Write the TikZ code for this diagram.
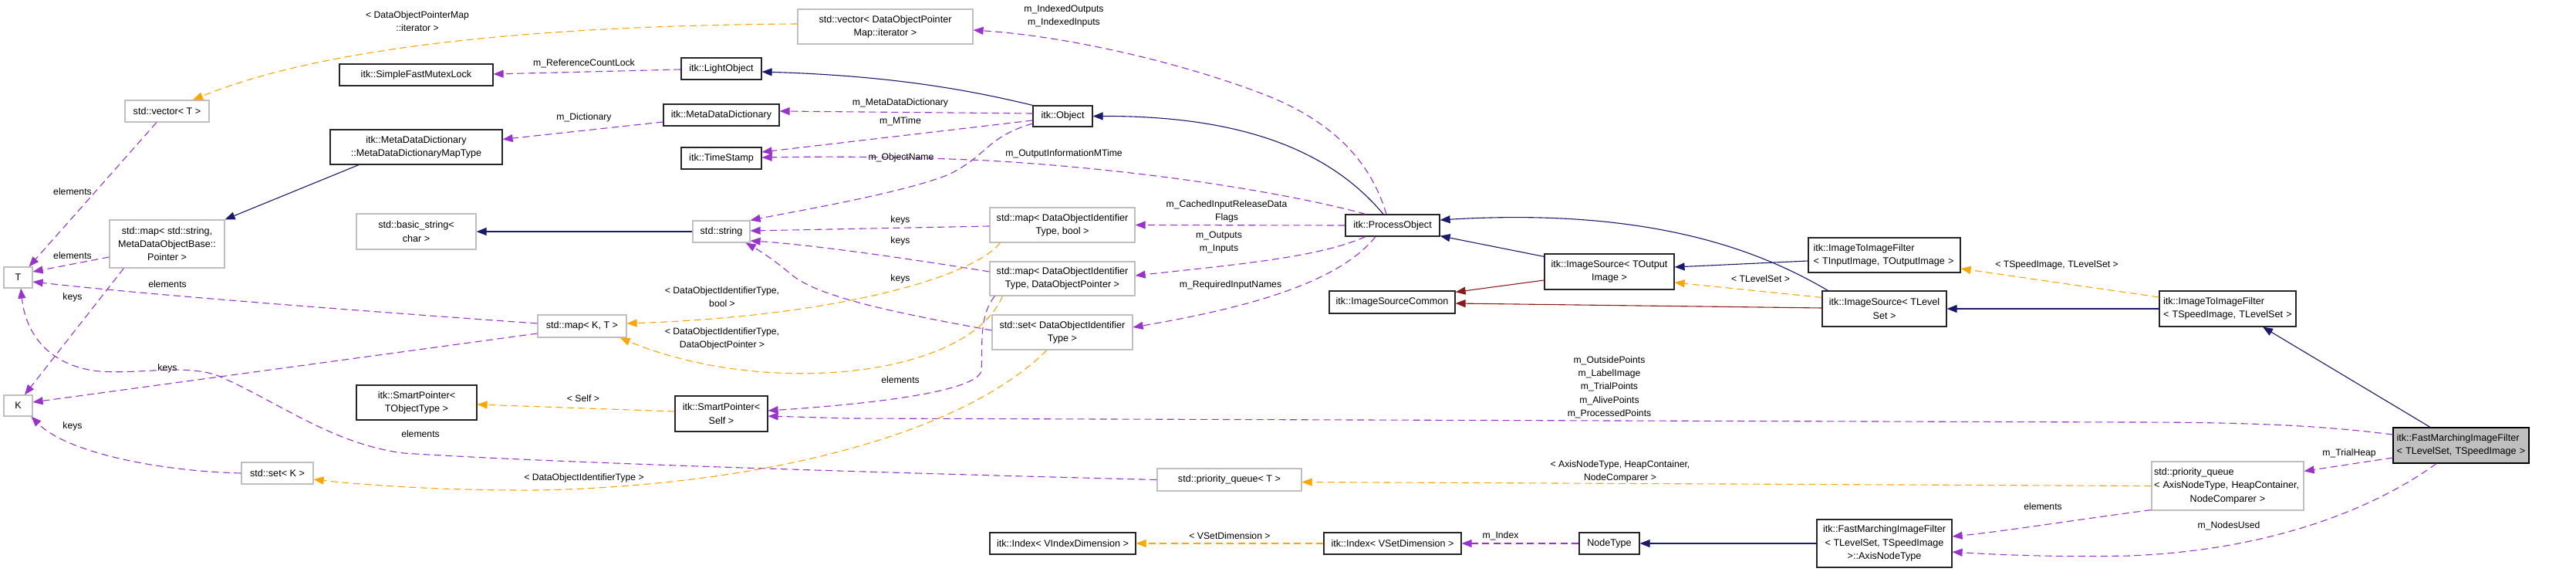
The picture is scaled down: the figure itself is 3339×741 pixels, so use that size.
\documentclass[tikz,border=0pt]{standalone}
\usepackage{fontspec}
\setmainfont{Liberation Sans}
\usetikzlibrary{arrows.meta,calc}
\definecolor{boxgray}{HTML}{BFBFBF}
\definecolor{boxblack}{HTML}{262626}
\definecolor{fmfill}{HTML}{BFBFBF}
\definecolor{epurple}{HTML}{9A32CD}
\definecolor{enavy}{HTML}{191970}
\definecolor{eorange}{HTML}{FFA500}
\definecolor{emaroon}{HTML}{8B1A1A}
\begin{document}
\begin{tikzpicture}[x=1pt,y=-1pt,
  every node/.style={font=\fontsize{12.6}{17.3}\selectfont, inner sep=0pt},
  gbox/.style={draw=boxgray, line width=1.2pt, fill=white, align=center},
  bbox/.style={draw=boxblack, line width=1.2pt, fill=white, align=center},
  lbl/.style={align=center, font=\fontsize{12.2}{17.3}\selectfont},
  tipend/.style={-{Triangle[length=13pt,width=10pt]}},
  pe/.style={tipend, draw=epurple, line width=1.1pt, dash pattern=on 9pt off 5.5pt},
  oe/.style={tipend, draw=eorange, line width=1.1pt, dash pattern=on 9pt off 5.5pt},
  ne/.style={tipend, draw=enavy, line width=1.1pt},
  me/.style={tipend, draw=emaroon, line width=1.1pt}]
\path[use as bounding box, fill=white] (0,0) rectangle (3339,741);

% ---------- nodes ----------
\node[gbox, minimum width=37pt, minimum height=27pt] (T) at (23.5,359.5) {T};
\node[gbox, minimum width=37pt, minimum height=27pt] (K) at (23.5,525.5) {K};
\node[gbox, minimum width=109pt, minimum height=28pt] (vecT) at (216.5,144) {std::vector< T >};
\node[gbox, minimum width=149pt, minimum height=62pt] (mapStr) at (216.5,316) {std::map< std::string,\\MetaDataObjectBase::\\Pointer >};
\node[bbox, minimum width=199pt, minimum height=28pt] (mutex) at (539.5,97) {itk::SimpleFastMutexLock};
\node[bbox, minimum width=223pt, minimum height=45pt] (mddMap) at (539.5,190.5) {itk::MetaDataDictionary\\::MetaDataDictionaryMapType};
\node[gbox, minimum width=155pt, minimum height=46pt] (basic) at (539.5,300) {std::basic\_string<\\char >};
\node[bbox, minimum width=156pt, minimum height=45pt] (spT) at (540,521.5) {itk::SmartPointer<\\TObjectType >};
\node[gbox, minimum width=93pt, minimum height=28pt] (setK) at (359.5,613) {std::set< K >};
\node[gbox, minimum width=115pt, minimum height=29pt] (mapKT) at (754.5,422.5) {std::map< K, T >};
\node[bbox, minimum width=104pt, minimum height=28pt] (light) at (935,89) {itk::LightObject};
\node[bbox, minimum width=150pt, minimum height=28pt] (mdd) at (935,149) {itk::MetaDataDictionary};
\node[bbox, minimum width=104pt, minimum height=28pt] (ts) at (935,205) {itk::TimeStamp};
\node[gbox, minimum width=74pt, minimum height=28pt] (str) at (935,300) {std::string};
\node[bbox, minimum width=120pt, minimum height=46pt] (spSelf) at (935,536) {itk::SmartPointer<\\Self >};
\node[gbox, minimum width=227pt, minimum height=45pt] (vecIt) at (1147.5,34.5) {std::vector< DataObjectPointer\\Map::iterator >};
\node[bbox, minimum width=77pt, minimum height=27pt] (obj) at (1377.5,150.5) {itk::Object};
\node[gbox, minimum width=188pt, minimum height=45pt] (mapBool) at (1377,291.5) {std::map< DataObjectIdentifier\\Type, bool >};
\node[gbox, minimum width=188pt, minimum height=44pt] (mapDOP) at (1377,361) {std::map< DataObjectIdentifier\\Type, DataObjectPointer >};
\node[gbox, minimum width=182pt, minimum height=45pt] (setDOIT) at (1377,430.5) {std::set< DataObjectIdentifier\\Type >};
\node[bbox, minimum width=189pt, minimum height=28pt] (idxV) at (1377.5,704) {itk::Index< VIndexDimension >};
\node[gbox, minimum width=187pt, minimum height=29pt] (pqT) at (1593.5,621.5) {std::priority\_queue< T >};
\node[bbox, minimum width=122pt, minimum height=28pt] (proc) at (1805,292) {itk::ProcessObject};
\node[bbox, minimum width=163pt, minimum height=29pt] (isc) at (1804.5,391.5) {itk::ImageSourceCommon};
\node[bbox, minimum width=178pt, minimum height=28pt] (idxS) at (1805,704) {itk::Index< VSetDimension >};
\node[bbox, minimum width=168pt, minimum height=46pt] (isOut) at (2086,352) {itk::ImageSource< TOutput\\Image >};
\node[bbox, minimum width=78pt, minimum height=28pt] (nodeT) at (2086,704) {NodeType};
\node[bbox, minimum width=197pt, minimum height=45pt, text width=184pt, align=left] (itiIn) at (2442.5,330.5) {itk::ImageToImageFilter\\< TInputImage, TOutputImage >};
\node[bbox, minimum width=161pt, minimum height=46pt] (isLS) at (2442.5,400) {itk::ImageSource< TLevel\\Set >};
\node[bbox, minimum width=175pt, minimum height=62pt] (axis) at (2442.5,704) {itk::FastMarchingImageFilter\\< TLevelSet, TSpeedImage\\>::AxisNodeType};
\node[bbox, minimum width=177pt, minimum height=46pt, text width=167pt, align=left] (itiSp) at (2887.5,400) {itk::ImageToImageFilter\\< TSpeedImage, TLevelSet >};
\node[gbox, minimum width=197pt, minimum height=63pt, text width=191pt, align=left] (pqA) at (2887.5,629.5) {std::priority\_queue\\< AxisNodeType, HeapContainer,\\\makebox[191pt][c]{NodeComparer >}};
\node[draw=black, line width=1.2pt, fill=fmfill, minimum width=176pt, minimum height=46pt, text width=167pt, align=left] (fm) at (3190,577) {itk::FastMarchingImageFilter\\< TLevelSet, TSpeedImage >};

% ---------- purple (member) edges ----------
\draw[pe] ($(light.west)+(0,1)$) -- ($(mutex.east)+(0,-1)$);
\draw[pe] ($(mdd.west)+(0,9)$) -- ($(mddMap.east)+(0,-10)$);
\draw[pe] ($(obj.west)+(0,-3.5)$) -- ($(mdd.east)+(0,-5)$);
\draw[pe] ($(obj.west)+(0,5.5)$) -- ($(ts.east)+(0,-8)$);
\draw[pe] ($(obj.west)+(0,9.5)$) .. controls (1278,178) and (1282,200) .. (1230,226) .. controls (1170,250) and (1040,272) .. (str.north east);
\draw[pe] ($(proc.north)+(-35,0)$) .. controls (1700,258) and (1520,222) .. (1280,208) .. controls (1150,202) and (1050,203) .. ($(ts.east)+(0,-1)$);
\draw[pe] ($(proc.north)+(-8,0)$) .. controls (1780,220) and (1740,165) .. (1650,127) .. controls (1560,90) and (1400,48) .. ($(vecIt.east)+(0,4.5)$);
\draw[pe] (proc.west) -- (mapBool.east);
\draw[pe] ($(proc.south)+(-35,0)$) .. controls (1710,333) and (1610,342) .. ($(mapDOP.east)+(0,-4)$);
\draw[pe] ($(proc.south)+(-22,0)$) .. controls (1740,360) and (1640,395) .. ($(setDOIT.east)+(0,-6.5)$);
\draw[pe] ($(mapBool.west)+(0,1.5)$) -- ($(str.east)+(0,-1)$);
\draw[pe] ($(mapDOP.west)+(0,-9)$) .. controls (1160,332) and (1040,316) .. ($(str.east)+(0,12)$);
\draw[pe] ($(setDOIT.west)+(0,-2.5)$) .. controls (1160,405) and (1060,385) .. (1025,355) .. controls (1005,338) and (985,325) .. ($(str.south east)+(-6,0)$);
\draw[pe] ($(mapDOP.south west)+(7,0)$) .. controls (1268,410) and (1274,450) .. (1272,480) .. controls (1268,505) and (1150,522) .. ($(spSelf.east)+(0,-4)$);
\draw[pe] ($(fm.west)+(0,-14)$) .. controls (3000,550) and (2900,547) .. (2760,547) -- (1100,542) -- ($(spSelf.east)+(0,3)$);
\draw[pe] ($(vecT.south)+(-13.5,0)$) -- ($(T.north east)+(-5,0)$);
\draw[pe] ($(mapStr.west)+(0,17)$) -- ($(T.east)+(0,-7.5)$);
\draw[pe] ($(mapKT.west)+(0,-3.5)$) .. controls (500,405) and (200,383) .. ($(T.east)+(0,5.5)$);
\draw[pe] ($(mapStr.south west)+(19,0)$) -- ($(K.north)+(8.5,0)$);
\draw[pe] ($(mapKT.west)+(0,9.5)$) -- ($(K.east)+(0,-4.5)$);
\draw[pe] (setK.west) .. controls (200,610) and (85,585) .. ($(K.south east)+(-2,0)$);
\draw[pe] (pqT.west) .. controls (1200,614) and (720,600) .. (523,587) .. controls (430,575) and (360,520) .. (283,487) .. controls (240,470) and (170,487) .. (120,480) .. controls (60,470) and (33,430) .. ($(T.south)+(3.5,0)$);
\draw[pe] ($(fm.west)+(0,16)$) -- ($(pqA.north east)+(0,13)$);
\draw[pe] ($(fm.south)+(-32,0)$) .. controls (3090,650) and (2960,712) .. (2760,720) .. controls (2650,722) and (2580,718) .. ($(axis.east)+(0,11)$);
\draw[pe] ($(pqA.south west)+(0,-1)$) .. controls (2700,672) and (2600,688) .. ($(axis.east)+(0,-9)$);
\draw[pe] (nodeT.west) -- (idxS.east);

% ---------- navy (inheritance) edges ----------
\draw[ne] (obj.north west) .. controls (1250,115) and (1150,98) .. ($(light.east)+(0,4)$);
\draw[ne] ($(proc.north)+(-12,0)$) .. controls (1720,190) and (1600,150) .. (obj.east);
\draw[ne] ($(isOut.north west)+(0,4)$) -- ($(proc.south east)+(0,-1)$);
\draw[ne] ($(isLS.north west)+(8,0)$) .. controls (2290,330) and (2150,268) .. ($(proc.east)+(0,-7)$);
\draw[ne] ($(itiIn.west)+(0,7.5)$) -- ($(isOut.east)+(0,-6)$);
\draw[ne] (itiSp.west) -- (isLS.east);
\draw[ne] ($(fm.north)+(-40,0)$) -- ($(itiSp.south)+(45.5,0)$);
\draw[ne] ($(mddMap.south)+(-74.5,0)$) -- (mapStr.north east);
\draw[ne] (str.west) -- (basic.east);
\draw[ne] (axis.west) -- (nodeT.east);

% ---------- maroon edges ----------
\draw[me] ($(isOut.west)+(0,11)$) -- ($(isc.north east)+(0,2)$);
\draw[me] ($(isLS.west)+(0,-1)$) -- ($(isc.east)+(0,1.5)$);

% ---------- orange (template) edges ----------
\draw[oe] ($(vecIt.west)+(0,-3.5)$) .. controls (700,33) and (420,60) .. ($(vecT.north)+(33.5,0)$);
\draw[oe] ($(spSelf.west)+(0,-3)$) -- ($(spT.east)+(0,2.5)$);
\draw[oe] ($(mapBool.south west)+(14,0)$) .. controls (1260,360) and (1080,410) .. ($(mapKT.east)+(0,-3.5)$);
\draw[oe] ($(mapDOP.south west)+(17,0)$) .. controls (1255,490) and (990,515) .. ($(mapKT.south east)+(-9,0)$);
\draw[oe] ($(setDOIT.south)+(-20,0)$) .. controls (1250,560) and (1000,628) .. (700,635) .. controls (560,636) and (450,626) .. ($(setK.east)+(0,8)$);
\draw[oe] ($(isLS.north west)+(0,9)$) -- ($(isOut.east)+(0,14)$);
\draw[oe] ($(itiSp.west)+(0,-15)$) -- ($(itiIn.east)+(0,17.5)$);
\draw[oe] (pqA.west) -- ($(pqT.east)+(0,3)$);
\draw[oe] (idxS.west) -- (idxV.east);

% ---------- labels ----------
\node[lbl] (l1) at (541,27.5) {< DataObjectPointerMap\\::iterator >};
\node[lbl] (l2) at (757,82) {m\_ReferenceCountLock};
\node[lbl] (l3) at (757,152) {m\_Dictionary};
\node[lbl] (l4) at (1379,21) {m\_IndexedOutputs\\m\_IndexedInputs};
\node[lbl] (l5) at (1167,133) {m\_MetaDataDictionary};
\node[lbl] (l6) at (1167,157) {m\_MTime};
\node[lbl] (l7) at (1168,204) {m\_ObjectName};
\node[lbl] (l8) at (1379,199) {m\_OutputInformationMTime};
\node[lbl] (l9) at (1167,285) {keys};
\node[lbl] (l10) at (1167,312) {keys};
\node[lbl] (l11) at (1167,361) {keys};
\node[lbl] (l12) at (1590,273.5) {m\_CachedInputReleaseData\\Flags};
\node[lbl] (l13) at (1580,314) {m\_Outputs\\m\_Inputs};
\node[lbl] (l14) at (1595,369) {m\_RequiredInputNames};
\node[lbl] (l15) at (94,248) {elements};
\node[lbl] (l16) at (94,331) {elements};
\node[lbl] (l17) at (217,368) {elements};
\node[lbl] (l18) at (545,562) {elements};
\node[lbl] (l19) at (1167,492) {elements};
\node[lbl] (l20) at (2648,656) {elements};
\node[lbl] (l21) at (94,385) {keys};
\node[lbl] (l22) at (217,477) {keys};
\node[lbl] (l23) at (94,552) {keys};
\node[lbl] (l24) at (936,384.5) {< DataObjectIdentifierType,\\bool >};
\node[lbl] (l25) at (936,439) {< DataObjectIdentifierType,\\DataObjectPointer >};
\node[lbl] (l26) at (756,516) {< Self >};
\node[lbl] (l27) at (757,619) {< DataObjectIdentifierType >};
\node[lbl] (l28) at (1594,694) {< VSetDimension >};
\node[lbl] (l29) at (1945,694) {m\_Index};
\node[lbl] (l30) at (2086,501.5) {m\_OutsidePoints\\m\_LabelImage\\m\_TrialPoints\\m\_AlivePoints\\m\_ProcessedPoints};
\node[lbl] (l31) at (2100,611) {< AxisNodeType, HeapContainer,\\NodeComparer >};
\node[lbl] (l32) at (2282,361) {< TLevelSet >};
\node[lbl] (l33) at (2666,343) {< TSpeedImage, TLevelSet >};
\node[lbl] (l34) at (3045,587) {m\_TrialHeap};
\node[lbl] (l35) at (2889,681) {m\_NodesUsed};
\end{tikzpicture}
\end{document}
